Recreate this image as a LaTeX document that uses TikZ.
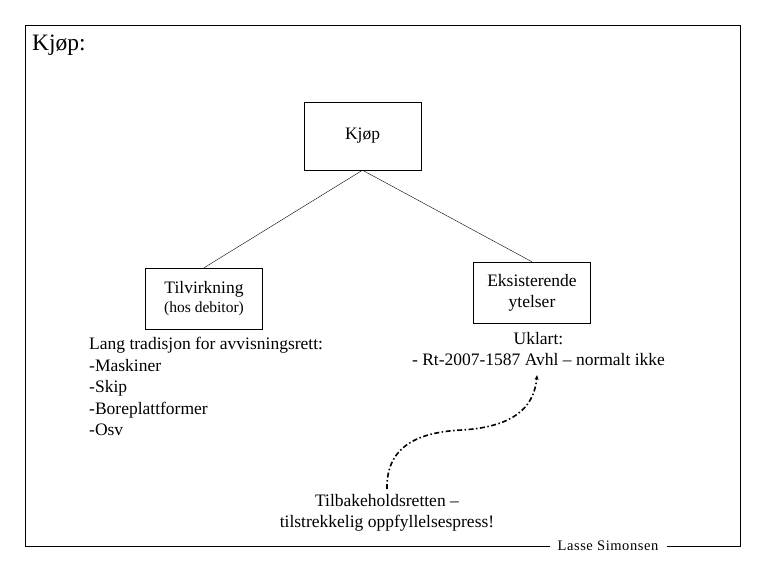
\documentclass[tikz,border=0pt]{standalone}
\usepackage{fontspec}
\setmainfont{Liberation Serif}
\newfontfamily\widefont[LetterSpace=4]{Liberation Serif}
\usetikzlibrary{arrows.meta}
\begin{document}
\begin{tikzpicture}[x=1pt,y=-1pt,
  box/.style={draw,thin,minimum width=117pt,minimum height=61pt,align=center,inner sep=2pt,font=\fontsize{17.5}{21}\selectfont},
  txt/.style={inner sep=0pt,font=\fontsize{17.5}{21.5}\selectfont},
  conn/.style={draw,thin}]
\useasboundingbox (0,0) rectangle (765,570);
\fill[white] (0,0) rectangle (765,570);
\draw[thin] (550,546) -- (25,546) -- (25,25) -- (740,25) -- (740,546) -- (667,546);
\node[inner sep=0pt,anchor=west,font=\fontsize{23.5}{28}\selectfont] (title) at (32,45) {Kjøp:};
\node[box,minimum height=68pt] (kjop) at (362.5,136) {Kjøp};
\node[box] (til) at (204,298.5) {Tilvirkning\\[-2pt]{\fontsize{15.5}{18}\selectfont(hos debitor)}};
\node[box] (eks) at (532,292.5) {Eksisterende\\ytelser};
\draw[conn] (kjop.south) -- (til.north);
\draw[conn] (kjop.south) -- (eks.north);
\node[txt,anchor=north west,align=left] (lang) at (89,337) {Lang tradisjon for avvisningsrett:\\-Maskiner\\-Skip\\-Boreplattformer\\-Osv};
\node[txt,anchor=north,align=center] (ukl) at (538.5,332) {Uklart:\\- Rt-2007-1587 Avhl – normalt ikke};
\node[txt,anchor=north,align=center] (tilb) at (387,494) {Tilbakeholdsretten –\\tilstrekkelig oppfyllelsespress!};
\node[inner sep=0pt,font=\widefont\fontsize{14.5}{18}\selectfont] (lasse) at (608,546) {Lasse Simonsen};
\coordinate (cs) at (387,489);
\coordinate (ce) at (537,375);
\draw[line width=1.6pt,dash pattern=on 5pt off 2.5pt on 1.5pt off 2.5pt,-{Stealth[length=5pt,width=4pt]}]
  (cs) .. controls (386,445) and (420,432) .. (462,430) .. controls (510,427) and (534,410) .. (ce);
\end{tikzpicture}
\end{document}
